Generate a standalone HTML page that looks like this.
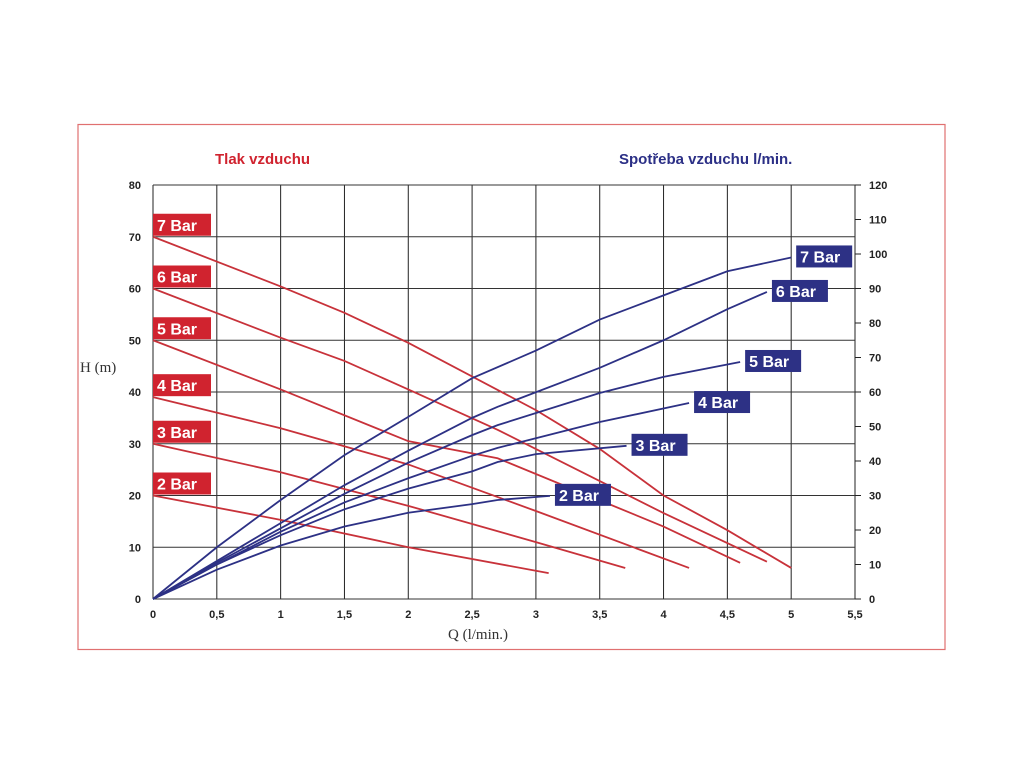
<!DOCTYPE html>
<html><head><meta charset="utf-8"><style>
body{margin:0;background:#fff;}
svg{display:block;font-family:"Liberation Sans",sans-serif;}
</style></head><body>
<svg id="chart" width="1024" height="768">
<rect x="78" y="124.5" width="867" height="525" fill="none" stroke="#e07070" stroke-width="1.2"/>
<text x="215" y="164" fill="#d0232f" font-size="15" font-weight="bold">Tlak vzduchu</text>
<text x="619" y="164" fill="#2b2f86" font-size="15" font-weight="bold">Spotřeba vzduchu l/min.</text>
<text x="80" y="372" fill="#333" font-size="15" font-family="Liberation Serif,serif">H (m)</text>
<text x="448" y="639" fill="#333" font-size="15" font-family="Liberation Serif,serif">Q (l/min.)</text>
<g id="grid"></g><g id="red"></g><g id="blue"></g><g id="labels"></g>
</svg>
<script>
const xTicks=[0,0.5,1,1.5,2,2.5,3,3.5,4,4.5,5,5.5];
const xTickLabels=["0","0,5","1","1,5","2","2,5","3","3,5","4","4,5","5","5,5"];
const hTicks=[0,10,20,30,40,50,60,70,80];
const cTicks=[0,10,20,30,40,50,60,70,80,90,100,110,120];
const seriesNames=["2 Bar","3 Bar","4 Bar","5 Bar","6 Bar","7 Bar"];
const headQ=[[0,1,2,3.1],[0,1,2,3,3.7],[0,1,2,3,4.2],[0,1,2,2.7,4,4.6],[0,1,1.5,2,2.7,4,4.81],[0,1,1.5,2,2.7,3,3.5,4,4.5,5]];
const headH=[[20,15.3,10,5],[30,24.5,18,11,6],[39,33,26,17,6],[50,40.5,30.5,27.2,14,7],[60,50.5,46,40.5,32.7,16.6,7.2],[70,60.4,55.3,49.5,40.4,36.5,29,20,13.3,6]];
const consQ=[[0,0.5,1,1.5,2,2.5,2.7,3.11],[0,0.5,1,1.5,2,2.5,2.7,3,3.71],[0,0.5,1,1.5,2,2.5,2.7,3.5,4.2],[0,0.5,1,1.5,2,2.5,2.7,3.5,4,4.6],[0,0.5,1,1.5,2,2.5,2.7,3.5,4,4.5,4.81],[0,0.5,1,1.5,2,2.5,3,3.5,4,4.5,5]];
const consV=[[0,8.5,15.5,21,25,27.5,28.7,29.9],[0,10,18.5,26,32,37,39.7,42,44.4],[0,10,19.5,28,35,41.5,43.8,51.3,56.8],[0,10.5,20.5,30.5,39.5,47.5,50.4,59.7,64.4,68.7],[0,11,22,33,43,52.5,55.7,67,75,84,89],[0,15,28.7,41.7,52.8,64,72,81,88,95,99]];
const NS="http://www.w3.org/2000/svg";
const X=q=>153+q*(702/5.5), YH=h=>599-h*(414/80), YC=c=>599-c*(414/120);
function mk(p,t,a){const e=document.createElementNS(NS,t);for(const k in a)e.setAttribute(k,a[k]);document.getElementById(p).appendChild(e);return e;}
xTicks.forEach((q,i)=>{
 const l=mk('grid','line',{x1:X(q),x2:X(q),y1:185,y2:599,stroke:'#222','stroke-width':1});
 
 
 const t=mk('grid','text',{x:X(q),y:618,'font-size':11,'font-weight':'bold','text-anchor':'middle',fill:'#222'});t.textContent=xTickLabels[i];
 
 
});
hTicks.forEach(h=>{
 const l=mk('grid','line',{x1:X(0),x2:X(5.5),y1:YH(h),y2:YH(h),stroke:'#333','stroke-width':1});
 
 
 const t=mk('grid','text',{x:141,y:YH(h)+4,'font-size':11,'font-weight':'bold','text-anchor':'end',fill:'#222'});t.textContent=h;
 
 
});
cTicks.forEach(c=>{
 const l=mk('grid','line',{x1:X(5.5),x2:X(5.5)+6,y1:YC(c),y2:YC(c),stroke:'#222'});
 
 
 const t=mk('grid','text',{x:869,y:YC(c)+4,'font-size':11,'font-weight':'bold',fill:'#222'});t.textContent=c;
 
 
});
seriesNames.forEach((n,i)=>{
 const r=mk('red','polyline',{points:headQ[i].map((q,j)=>X(q)+','+YH(headH[i][j])).join(' '),fill:'none',stroke:'#c8323a','stroke-width':1.8});
 
 
 const b=mk('blue','polyline',{points:consQ[i].map((q,j)=>X(q)+','+YC(consV[i][j])).join(' '),fill:'none',stroke:'#2d3185','stroke-width':1.8});
 
 
 // red label
 const ry=YH(headH[i][0])-23;
 const rr=mk('labels','rect',{x:153,y:ry,width:58,height:22,fill:'#d0232f'});
 
 
 const rt=mk('labels','text',{x:157,y:ry+17,'font-size':16,'font-weight':'bold',fill:'#fff'});rt.textContent=n;
 
 
 // blue label
 const lq=consQ[i][consQ[i].length-1],lv=consV[i][consV[i].length-1];
 const bx=X(lq)+5,by=YC(lv)-12;
 const br=mk('labels','rect',{x:bx,y:by,width:56,height:22,fill:'#2d3185'});
 
 
 const bt=mk('labels','text',{x:bx+4,y:by+17,'font-size':16,'font-weight':'bold',fill:'#fff'});bt.textContent=n;
 
 
});
</script>
</body></html>
